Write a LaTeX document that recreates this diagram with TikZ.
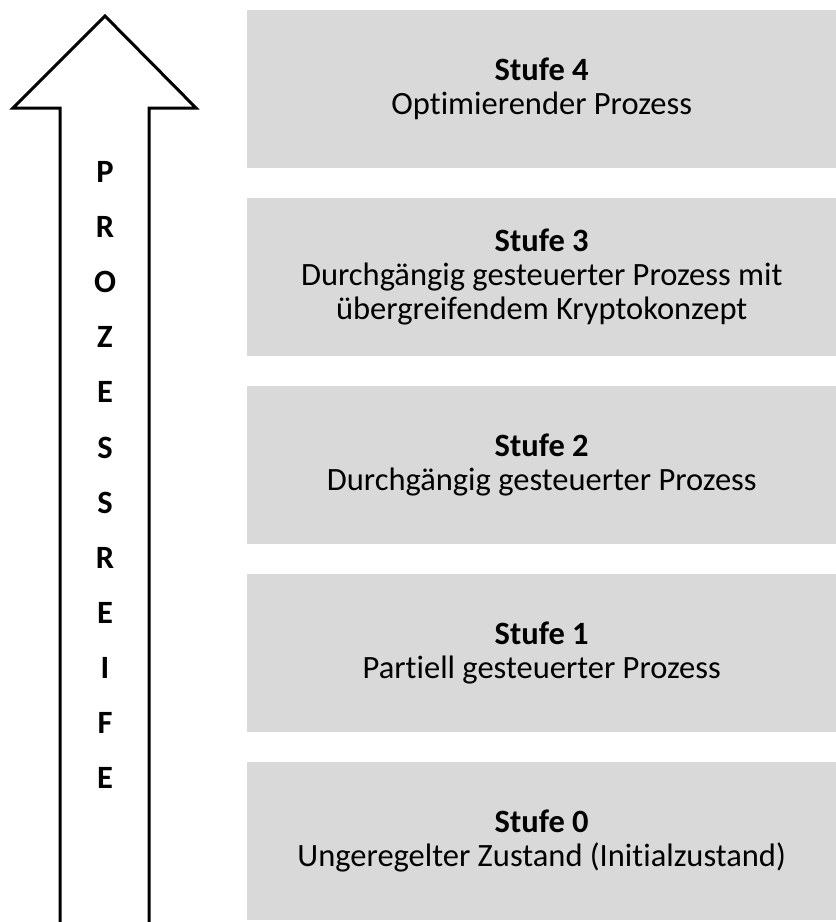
\documentclass[tikz,border=0pt]{standalone}
\usepackage{fontspec}
\setmainfont[Ligatures=NoCommon]{Carlito}
\usepackage{xcolor}
\definecolor{stufegray}{HTML}{D9D9D9}
\usetikzlibrary{positioning}

\tikzset{
  stufebox/.style={fill=stufegray, minimum width=589pt, minimum height=158pt, inner sep=0pt,
    align=center, font=\fontsize{32.5}{34}\selectfont, anchor=north west},
  reifeletter/.style={font=\fontsize{32.5}{34}\selectfont\bfseries}
}

\begin{document}
\begin{tikzpicture}[x=1pt, y=-1pt]
  \useasboundingbox (0,0) rectangle (836,922);

  % Stufen (Boxen von oben nach unten)
  \node[stufebox] (stufe4) at (247,10)  {\textbf{Stufe 4}\\Optimierender Prozess};
  \node[stufebox] (stufe3) at (247,198) {\textbf{Stufe 3}\\Durchgängig gesteuerter Prozess mit\\übergreifendem Kryptokonzept};
  \node[stufebox] (stufe2) at (247,386) {\textbf{Stufe 2}\\Durchgängig gesteuerter Prozess};
  \node[stufebox] (stufe1) at (247,574) {\textbf{Stufe 1}\\Partiell gesteuerter Prozess};
  \node[stufebox] (stufe0) at (247,762) {\textbf{Stufe 0}\\Ungeregelter Zustand (Initialzustand)};

  % Pfeil (unten offen)
  \draw[line width=3pt, line join=miter] (60,925) -- (60,108) -- (13,108) -- (105,16)
    -- (196,108) -- (149,108) -- (149,925);

  % Beschriftung im Pfeil
  \foreach \ch [count=\i from 0] in {P,R,O,Z,E,S,S,R,E,I,F,E}
    \node[reifeletter] (reife\i) at (105,{172+55.1*\i}) {\ch};
\end{tikzpicture}
\end{document}
